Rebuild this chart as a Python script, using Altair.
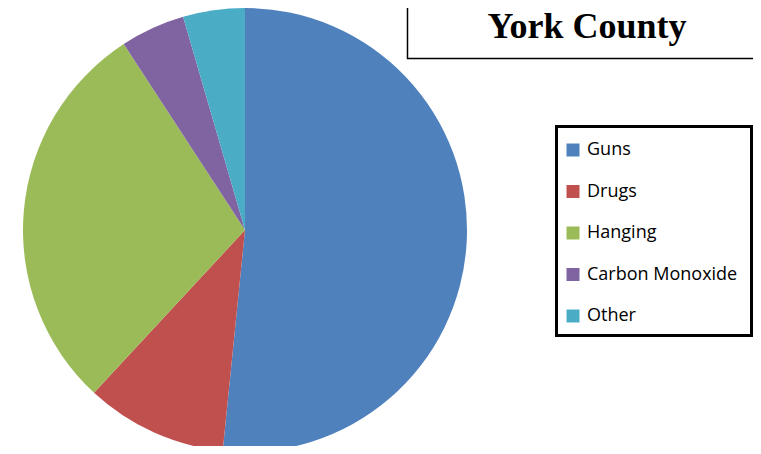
import altair as alt
import pandas as pd

categories = ["Guns", "Drugs", "Hanging", "Carbon Monoxide", "Other"]
shares = [51.6, 10.3, 28.9, 4.7, 4.5]
colors = ["#4F81BD", "#C0504D", "#9BBB59", "#8064A2", "#4BACC6"]
title_text = "York County"

df = pd.DataFrame({"cause": categories, "share": shares, "order": list(range(len(categories)))})

W, H = 745, 438

pie = alt.Chart(df).mark_arc(radius=222).encode(
    theta=alt.Theta("share:Q", stack=True),
    color=alt.Color(
        "cause:N",
        sort=categories,
        scale=alt.Scale(domain=categories, range=colors),
        legend=alt.Legend(
            title=None,
            orient="none",
            legendX=544,
            legendY=121,
            padding=12,
            symbolType="square",
            symbolSize=169,
            symbolStrokeWidth=0,
            labelFont="Open Sans",
            labelFontSize=18,
            labelColor="black",
            labelOffset=5,
            rowPadding=23.5,
        ),
    ),
    order=alt.Order("order:Q"),
    x=alt.value(237),
    y=alt.value(222),
)

box_df = pd.DataFrame({"t": [title_text]})
legend_box = alt.Chart(box_df).mark_rect(fill="white", stroke="black", strokeWidth=3).encode(
    x=alt.value(548.5), x2=alt.value(743.5), y=alt.value(118.5), y2=alt.value(327.5)
)
box = alt.Chart(box_df).mark_rect(fill="white", stroke="black", strokeWidth=1.5).encode(
    x=alt.value(399.5), x2=alt.value(790), y=alt.value(-10), y2=alt.value(50.5)
)
title = alt.Chart(box_df).mark_text(
    font="Liberation Serif", fontWeight="bold", fontSize=36, color="black", align="center", baseline="alphabetic"
).encode(text="t:N", x=alt.value(579), y=alt.value(29.5))

chart = alt.layer(legend_box, pie, box, title).properties(
    width=W, height=H, autosize=alt.AutoSizeParams(type="none"), padding=0, background="white"
).configure_view(stroke=None)

chart.save("out.html", embed_options={"renderer": "svg", "actions": False})
